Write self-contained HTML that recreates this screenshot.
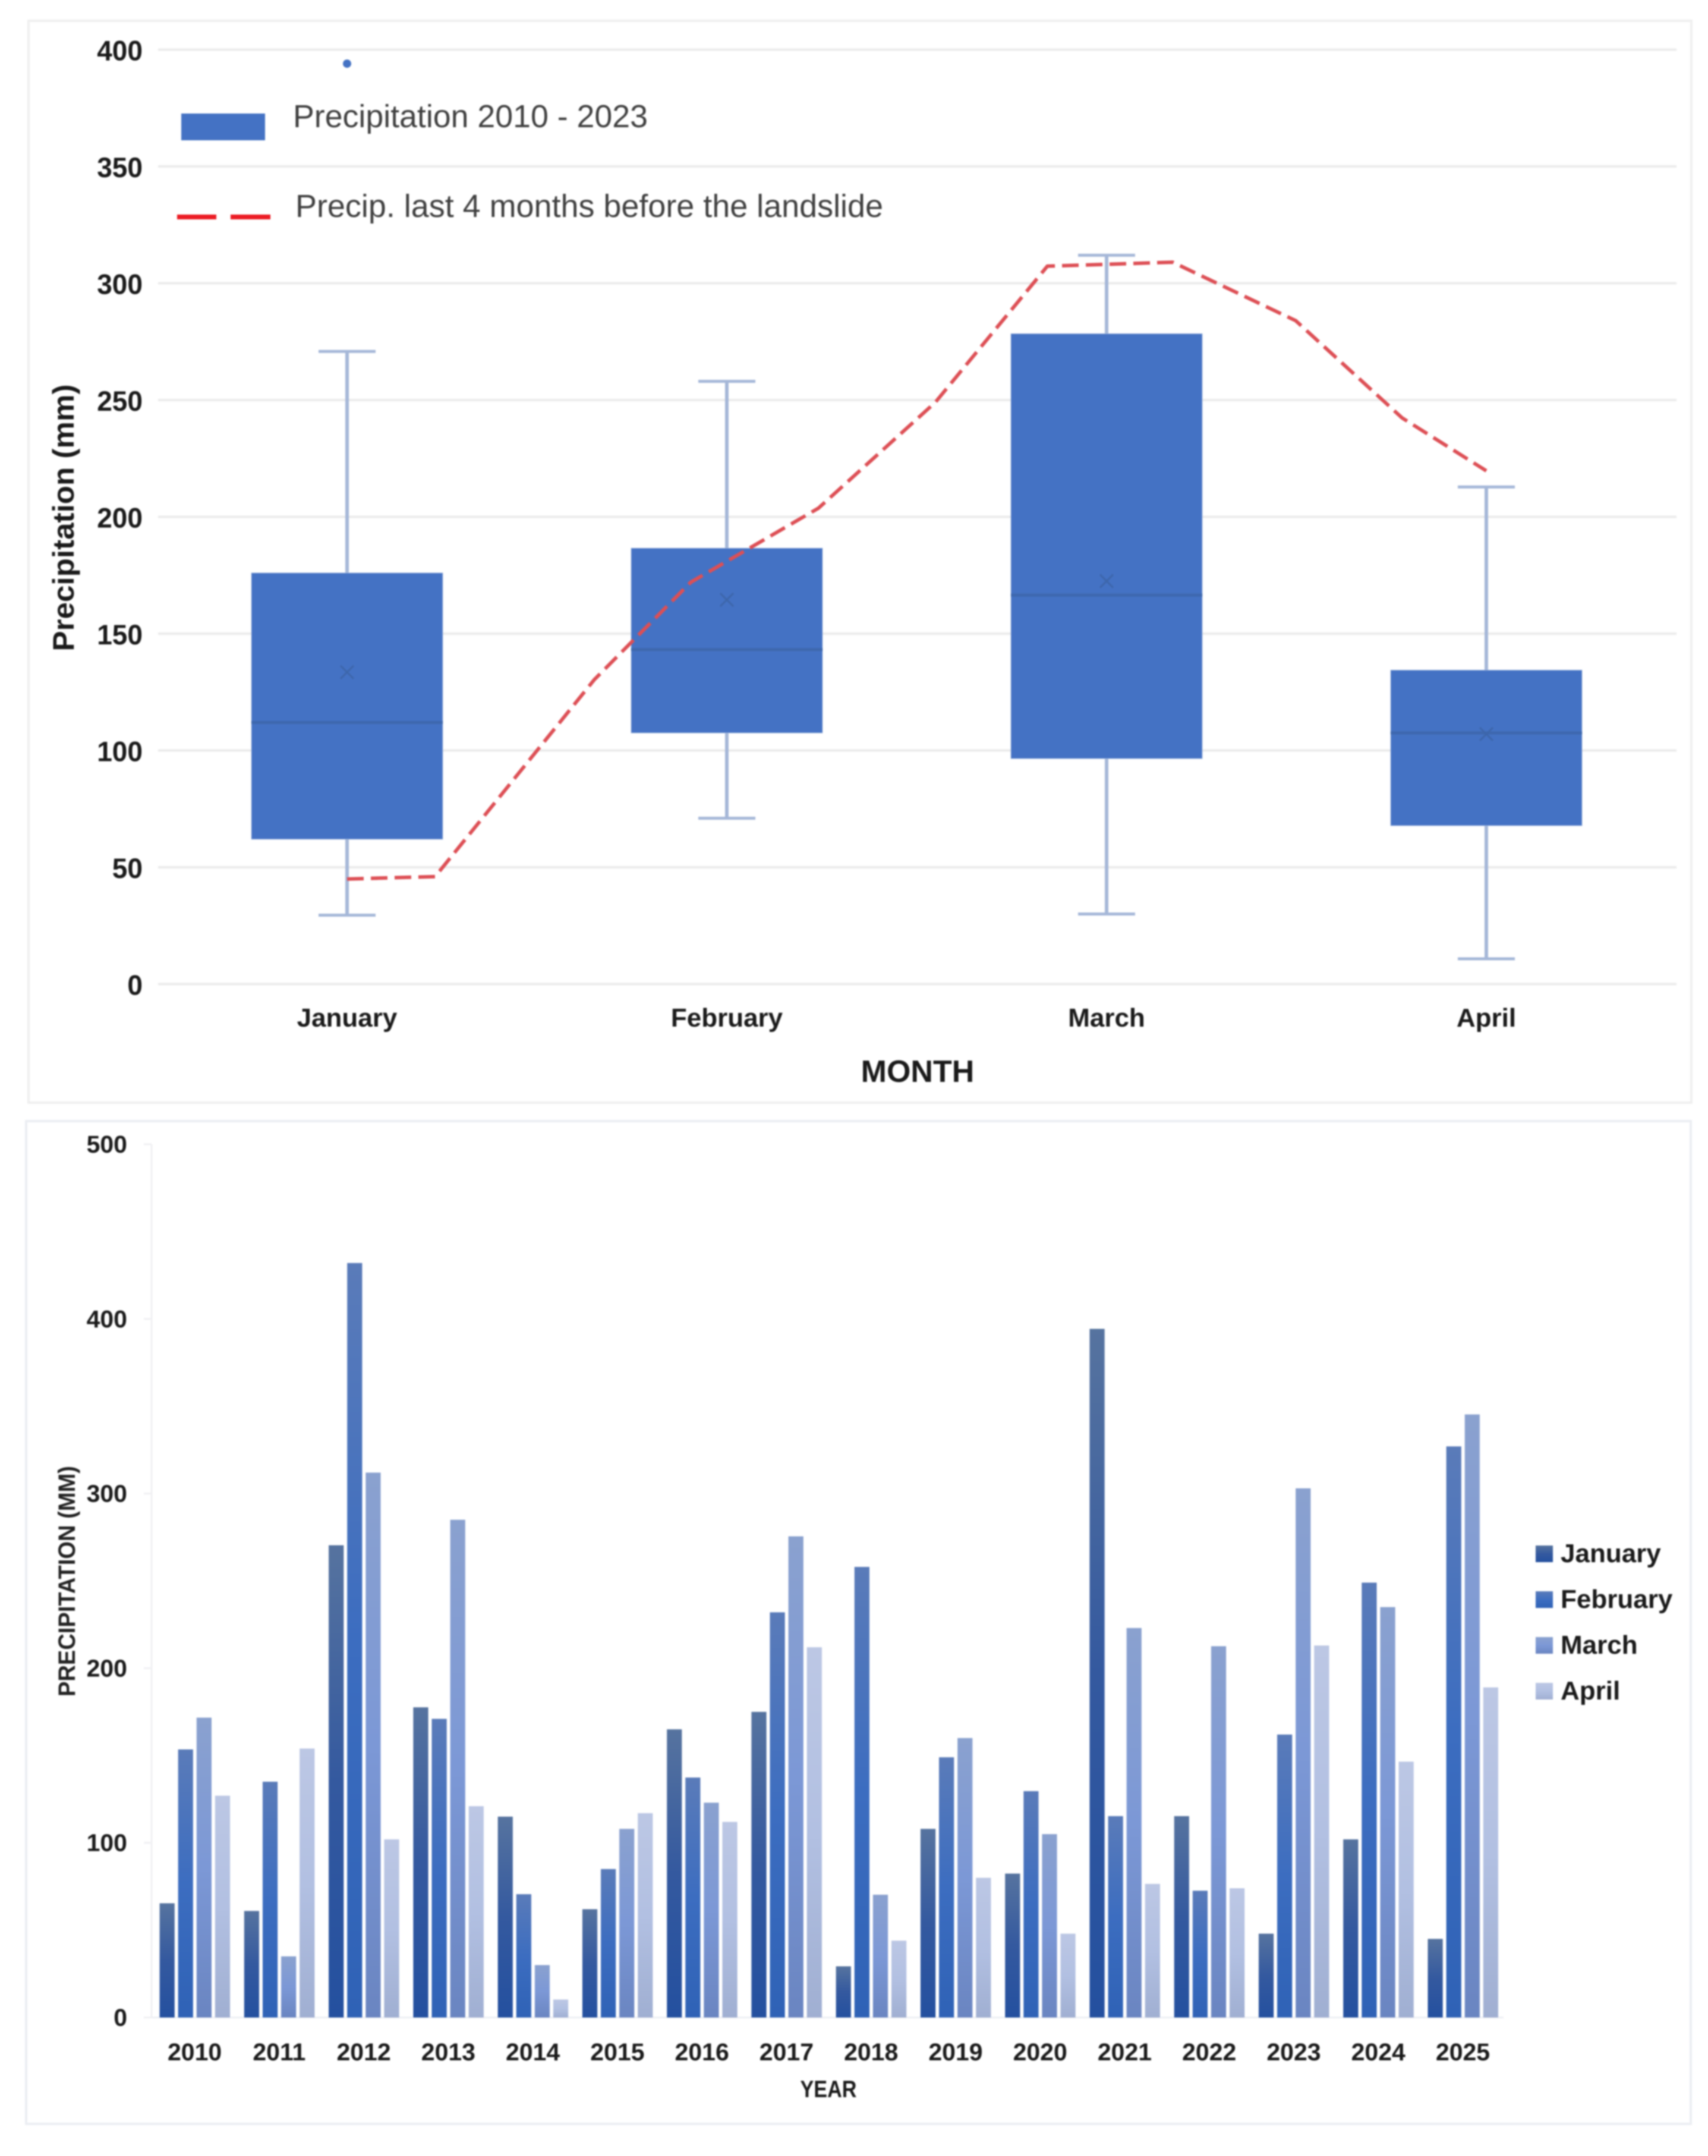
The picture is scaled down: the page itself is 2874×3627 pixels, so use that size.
<!DOCTYPE html>
<html lang="en">
<head>
<meta charset="utf-8">
<title>Precipitation charts</title>
<style>
html,body{margin:0;padding:0;background:#fff;width:2874px;height:3627px;overflow:hidden}
svg{display:block;filter:blur(1.2px)}
text{font-family:"Liberation Sans",sans-serif}
</style>
</head>
<body>
<svg id="fig" xmlns="http://www.w3.org/2000/svg" width="2874" height="3627" viewBox="0 0 2874 3627">
  <defs>
    <linearGradient id="g0" x1="0" y1="0" x2="0" y2="1"><stop offset="0" stop-color="#56739f"/><stop offset=".5" stop-color="#34599f"/><stop offset="1" stop-color="#24509f"/></linearGradient>
    <linearGradient id="g1" x1="0" y1="0" x2="0" y2="1"><stop offset="0" stop-color="#5a7bb9"/><stop offset=".5" stop-color="#3c6dc0"/><stop offset="1" stop-color="#2f62b6"/></linearGradient>
    <linearGradient id="g2" x1="0" y1="0" x2="0" y2="1"><stop offset="0" stop-color="#8aa1cf"/><stop offset=".5" stop-color="#7c98d6"/><stop offset="1" stop-color="#6a85c1"/></linearGradient>
    <linearGradient id="g3" x1="0" y1="0" x2="0" y2="1"><stop offset="0" stop-color="#bcc7e4"/><stop offset=".5" stop-color="#b2c0e2"/><stop offset="1" stop-color="#a0afd2"/></linearGradient>
  </defs>
  <rect width="2874" height="3627" fill="#ffffff"/>
  <rect x="48" y="35" width="2798" height="1820" fill="#fff" stroke="#efefef" stroke-width="4"/>
  <rect x="44" y="1886" width="2801" height="1687" fill="#fff" stroke="#eceef3" stroke-width="4"/>

  <g id="box-chart"></g>
  <g id="box-legend">
    <rect x="305" y="191" width="141" height="45" fill="#4472c4"/>
    <text x="493" y="214" font-size="54" fill="#404040" textLength="597" lengthAdjust="spacingAndGlyphs">Precipitation 2010 - 2023</text>
    <line x1="298" y1="365" x2="364" y2="365" stroke="#ec1c24" stroke-width="8"/>
    <line x1="388" y1="365" x2="455" y2="365" stroke="#ec1c24" stroke-width="8"/>
    <text x="497" y="365" font-size="54" fill="#404040" textLength="989" lengthAdjust="spacingAndGlyphs">Precip. last 4 months before the landslide</text>
  </g>
  <text transform="translate(124 871) rotate(-90)" text-anchor="middle" font-size="50" font-weight="700" fill="#1a1a1a" textLength="449" lengthAdjust="spacingAndGlyphs">Precipitation (mm)</text>
  <text x="1544" y="1820" text-anchor="middle" font-size="52" font-weight="700" fill="#1a1a1a">MONTH</text>

  <g id="bar-chart"></g>
  <text transform="translate(126 2660) rotate(-90)" text-anchor="middle" font-size="40" font-weight="700" fill="#222" textLength="388" lengthAdjust="spacingAndGlyphs">PRECIPITATION (MM)</text>
  <text x="1394" y="3528" text-anchor="middle" font-size="40" font-weight="700" fill="#1a1a1a" textLength="95" lengthAdjust="spacingAndGlyphs">YEAR</text>
  <g id="bar-legend"></g>
</svg>

<script>
/* ---------- box chart data ---------- */
const months = ["January", "February", "March", "April"];
const boxYTicks = [0, 50, 100, 150, 200, 250, 300, 350, 400];
const whiskerLow = [29.5, 71, 30, 10.8];
const quartile1 = [62, 107.5, 96.5, 67.8];
const medians = [112, 143.2, 166.5, 107.5];
const means = [133.5, 164.5, 172.5, 107];
const quartile3 = [176, 186.6, 278.4, 134.4];
const whiskerHigh = [270.8, 258, 312, 212.8];
const janOutliers = [394];
const linePosition = [0, 0.232, 0.651, 0.905, 1.241, 1.549, 1.844, 2.174, 2.498, 2.778, 3];
const lineValues = [45, 46, 130.3, 172, 203.7, 249, 307.3, 309, 284, 242.4, 219.7];

/* ---------- bar chart data ---------- */
const years = [2010, 2011, 2012, 2013, 2014, 2015, 2016, 2017, 2018, 2019, 2020, 2021, 2022, 2023, 2024, 2025];
const barYTicks = [0, 100, 200, 300, 400, 500];
const januaryValues = [65.4, 61, 270.4, 177.6, 115, 62, 165, 175, 29.3, 108, 82.4, 394.3, 115.3, 48, 102, 45];
const februaryValues = [153.5, 135, 432, 171, 70.6, 85, 137.4, 232, 258, 149, 129.6, 115.3, 72.6, 162, 249, 327];
const marchValues = [171.7, 35, 312, 285, 30, 108, 123, 275.5, 70.3, 160, 105, 223, 212.6, 303, 235, 345.3];
const aprilValues = [127, 154, 102, 121, 10.3, 117, 112, 212, 44, 80, 48, 76.5, 74, 213, 146.5, 189];
const barSeries = [januaryValues, februaryValues, marchValues, aprilValues];

/* ---------- axis functions ---------- */
const NS = "http://www.w3.org/2000/svg";
function boxY(v) { return 1655.5 - v * 3.93; }
function boxX(p) { return 584 + p * 639; }
function barY(v) { return 3394 - v * 2.938; }
function barGroupX(i) { return 268.6 + i * 142.26; }

function make(parent, tag, props, content) {
  const el = document.createElementNS(NS, tag);
  for (const k in props) el.setAttribute(k, props[k]);
  if (content !== undefined) el.textContent = content;
  parent.appendChild(el);
  return el;
}

/* ---------- draw box chart ---------- */
const boxRoot = document.getElementById("box-chart");

boxYTicks.forEach(function (t) {
  const grid = make(boxRoot, "line", { x1: 266, x2: 2821, y1: boxY(t), y2: boxY(t), stroke: "#ebebeb", "stroke-width": 4 });
  
  
  const lab = make(boxRoot, "text", { x: 240, y: boxY(t) + 18, "text-anchor": "end", "font-size": 47, "font-weight": 700, fill: "#1a1a1a", textLength: String(t).length * 25.6, lengthAdjust: "spacingAndGlyphs" }, String(t));
  
  
});

months.forEach(function (m, i) {
  const cx = boxX(i);
  const hw = 161;
  const stem = make(boxRoot, "line", { x1: cx, x2: cx, y1: boxY(whiskerHigh[i]), y2: boxY(whiskerLow[i]), stroke: "#a5b7d8", "stroke-width": 6 });
  
  
  const capHigh = make(boxRoot, "line", { x1: cx - 48, x2: cx + 48, y1: boxY(whiskerHigh[i]), y2: boxY(whiskerHigh[i]), stroke: "#a5b7d8", "stroke-width": 5 });
  
  
  const capLow = make(boxRoot, "line", { x1: cx - 48, x2: cx + 48, y1: boxY(whiskerLow[i]), y2: boxY(whiskerLow[i]), stroke: "#a5b7d8", "stroke-width": 5 });
  
  
  const box = make(boxRoot, "rect", { x: cx - hw, width: hw * 2, y: boxY(quartile3[i]), height: boxY(quartile1[i]) - boxY(quartile3[i]), fill: "#4472c4", stroke: "#a9bde0", "stroke-width": 1 });
  
  
  const med = make(boxRoot, "line", { x1: cx - hw, x2: cx + hw, y1: boxY(medians[i]), y2: boxY(medians[i]), stroke: "#3e68ae", "stroke-width": 5 });
  
  
  const my = boxY(means[i]);
  const mean = make(boxRoot, "path", { d: "M" + (cx - 11) + " " + (my - 11) + "L" + (cx + 11) + " " + (my + 11) + "M" + (cx + 11) + " " + (my - 11) + "L" + (cx - 11) + " " + (my + 11), stroke: "#3d66ab", "stroke-width": 3, fill: "none" });
  
  
  const lab = make(boxRoot, "text", { x: cx, y: 1727, "text-anchor": "middle", "font-size": 44, "font-weight": 700, fill: "#1a1a1a" }, m);
  
  
});

janOutliers.forEach(function (v) {
  const dot = make(boxRoot, "circle", { cx: boxX(0), cy: boxY(v), r: 7, fill: "#4472c4" });
  
  
});

const linePts = lineValues.map(function (v, i) { return boxX(linePosition[i]).toFixed(1) + "," + boxY(v).toFixed(1); }).join(" ");
const redLine = make(boxRoot, "polyline", { points: linePts, fill: "none", stroke: "#dd4f55", "stroke-width": 6, "stroke-dasharray": "28 12", "stroke-linejoin": "round" });



/* ---------- draw bar chart ---------- */
const barRoot = document.getElementById("bar-chart");

const yAxisLine = make(barRoot, "line", { x1: 255, x2: 255, y1: barY(500), y2: barY(0), stroke: "#f0f0f3", "stroke-width": 3 });


const xAxisLine = make(barRoot, "line", { x1: 242, x2: 2530, y1: barY(0), y2: barY(0), stroke: "#eeeff4", "stroke-width": 3 });



barYTicks.forEach(function (t) {
  const tick = make(barRoot, "line", { x1: 242, x2: 255, y1: barY(t), y2: barY(t), stroke: "#f0f0f3", "stroke-width": 3 });
  
  
  const lab = make(barRoot, "text", { x: 214, y: barY(t) + 14, "text-anchor": "end", "font-size": 41, "font-weight": 700, fill: "#1a1a1a" }, String(t));
  
  
});

years.forEach(function (yr, i) {
  const gx = barGroupX(i);
  barSeries.forEach(function (series, s) {
    const top = barY(series[i]);
    const bar = make(barRoot, "rect", { x: gx + s * 31.1, width: 25.2, y: top, height: barY(0) - top, fill: "url(#g" + s + ")" });
    
    
  });
  const lab = make(barRoot, "text", { x: gx + 59, y: 3466, "text-anchor": "middle", "font-size": 41, "font-weight": 700, fill: "#1a1a1a" }, String(yr));
  
  
});

/* ---------- bar legend ---------- */
const legendRoot = document.getElementById("bar-legend");
months.forEach(function (m, i) {
  const rowY = 2628 + i * 77;
  const swatch = make(legendRoot, "rect", { x: 2584, y: rowY - 28, width: 29, height: 28, fill: "url(#g" + i + ")" });
  
  
  const lab = make(legendRoot, "text", { x: 2626, y: rowY, "font-size": 44, "font-weight": 700, fill: "#1a1a1a" }, m);
  
  
});
</script>
</body>
</html>
